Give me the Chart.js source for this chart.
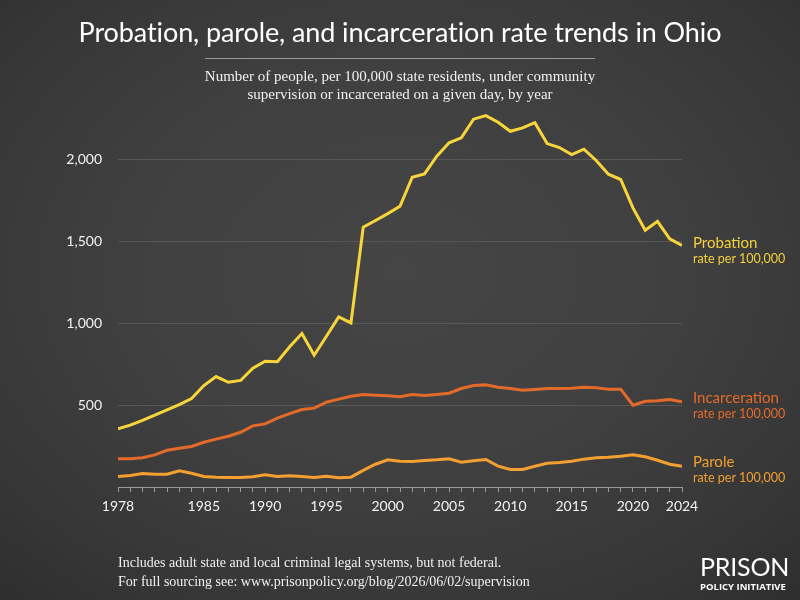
<!DOCTYPE html>
<html>
<head>
<meta charset="utf-8">
<script src="https://cdn.jsdelivr.net/npm/chart.js@4"></script>
<style>
  html, body { margin:0; padding:0; }
  body { width:800px; height:600px; overflow:hidden; position:relative;
    background: radial-gradient(ellipse 75% 75% at 50% 45%, #454545 0%, #404040 45%, #363636 80%, #2e2e2e 100%);
    font-family: Lato, "Open Sans", sans-serif; color:#fff; }
  #c { position:absolute; left:0; top:0; }
  .t { position:absolute; white-space:nowrap; }
  #title { left:0; width:800px; top:15px; text-align:center; font-size:27px; font-weight:400; color:#fff; letter-spacing:-0.1px; }
  #rule { position:absolute; left:205px; width:390px; top:58px; height:1px; background:#9a9a9a; }
  #sub { left:0; width:800px; top:67px; text-align:center; font-family:"Liberation Serif", serif; font-size:15px; line-height:18px; color:#f0f0f0; }
  #foot { left:118px; top:553px; font-family:"Liberation Serif", serif; font-size:14px; line-height:19px; color:#f0f0f0; }
  .lab { position:absolute; left:693px; white-space:nowrap; }
  .lab .a { font-size:15px; line-height:18px; }
  .lab .b { font-size:12.5px; line-height:16px; }
  #logo1 { left:700px; top:552px; font-family:Lato, sans-serif; font-size:25px; font-weight:400; letter-spacing:-0.2px; line-height:28px; }
  #logo2 { left:700px; top:581px; font-family:"Open Sans", sans-serif; font-size:9.5px; font-weight:700; letter-spacing:0px; line-height:12px; }
</style>
</head>
<body>
<canvas id="c" width="800" height="600"></canvas>
<div class="t" id="title">Probation, parole, and incarceration rate trends in Ohio</div>
<div id="rule"></div>
<div class="t" id="sub">Number of people, per 100,000 state residents, under community<br>supervision or incarcerated on a given day, by year</div>
<div class="lab" style="top:233px;color:#f3d03c"><div class="a">Probation</div><div class="b">rate per 100,000</div></div>
<div class="lab" style="top:388px;color:#e46a2a"><div class="a">Incarceration</div><div class="b">rate per 100,000</div></div>
<div class="lab" style="top:452px;color:#f3a030"><div class="a">Parole</div><div class="b">rate per 100,000</div></div>
<div class="t" id="foot">Includes adult state and local criminal legal systems, but not federal.<br>For full sourcing see: www.prisonpolicy.org/blog/2026/06/02/supervision</div>
<div class="t" id="logo1">PRISON</div>
<div class="t" id="logo2">POLICY INITIATIVE</div>
<script>
const years = [1978,1979,1980,1981,1982,1983,1984,1985,1986,1987,1988,1989,1990,1991,1992,1993,1994,1995,1996,1997,1998,1999,2000,2001,2002,2003,2004,2005,2006,2007,2008,2009,2010,2011,2012,2013,2014,2015,2016,2017,2018,2019,2020,2021,2022,2023,2024];
const probation = [355,377,407,438,471,503,540,619,674,639,650,725,767,764,855,936,804,920,1038,1001,1585,1626,1668,1713,1890,1910,2018,2100,2130,2244,2266,2225,2170,2191,2223,2095,2071,2028,2061,1992,1908,1876,1703,1566,1621,1514,1473];
const incarceration = [172,173,178,196,224,237,247,273,292,310,334,373,385,420,448,473,481,517,536,554,564,560,556,550,564,558,564,572,601,619,623,609,601,590,595,601,601,603,609,605,597,597,499,523,526,534,520];
const parole = [64,70,82,78,78,99,84,64,60,58,58,62,74,64,68,64,58,66,56,60,101,139,166,157,155,162,166,172,151,160,168,127,107,107,127,145,149,157,170,178,182,188,196,184,163,139,127];
const yTicks = [0,500,1000,1500,2000];
const xLabelYears = [1978,1985,1990,1995,2000,2005,2010,2015,2020,2024];

const toXY = arr => arr.map((v,i)=>({x:years[i], y:v}));
const mk = (label, data, color) => ({label, data: toXY(data), borderColor: color, borderWidth: 3, pointRadius: 0, fill:false, tension:0, borderJoinStyle:'miter'});

new Chart(document.getElementById('c'), {
  type: 'line',
  data: { datasets: [
    mk('Parole', parole, '#f3a030'),
    mk('Incarceration', incarceration, '#e46a2a'),
    mk('Probation', probation, '#f8d53a')
  ]},
  options: {
    responsive:false, animation:false, devicePixelRatio:1,
    layout: { padding: { left:0, right:118, top:110, bottom:83 } },
    plugins: { legend:{display:false}, tooltip:{enabled:false} },
    scales: {
      x: { type:'linear', min:1978, max:2024,
        afterFit: s => { s.height = 30; },
        ticks: { stepSize:1, autoSkip:false, maxRotation:0, padding:6, color:'#f2f2f2', font:{family:'Lato', size:14},
          callback: v => xLabelYears.includes(v) ? String(v) : '' },
        grid: { drawOnChartArea:false, drawTicks:true, tickLength:5, color:'#9a9a9a' },
        border: { display:true, color:'#9a9a9a', width:1 }
      },
      y: { min:0, max:2300,
        afterFit: s => { s.width = 118; },
        afterBuildTicks: s => { s.ticks = yTicks.map(v=>({value:v})); },
        ticks: { padding:16, color:'#f2f2f2', font:{family:'Lato', size:14},
          callback: v => v === 0 ? '' : v.toLocaleString('en-US') },
        grid: { drawTicks:false, color: ctx => ctx.tick && ctx.tick.value === 0 ? 'rgba(0,0,0,0)' : '#575757', lineWidth:1 },
        border: { display:false }
      }
    }
  }
});
</script>
</body>
</html>
